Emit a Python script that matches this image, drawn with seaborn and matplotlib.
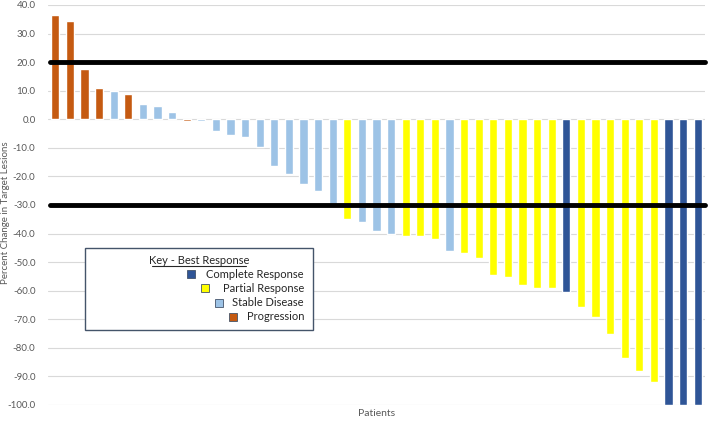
import numpy as np
import pandas as pd
import matplotlib.pyplot as plt
import matplotlib.patches as mpatches
import matplotlib.lines as mlines
import seaborn as sns

# values, left to right
change = [36.5, 34.5, 17.5, 11.0, 10.0, 9.0, 5.5, 4.5, 2.7, -0.5,
          -0.5, -4.2, -5.6, -6.2, -9.7, -16.3, -19.2, -22.7, -25.2, -29.5,
          -35.0, -36.0, -39.0, -40.0, -41.0, -41.0, -42.0, -46.0, -46.7, -48.6,
          -54.5, -55.2, -58.0, -59.0, -59.1, -60.4, -65.6, -69.2, -75.2, -83.5,
          -88.0, -92.0, -100.0, -100.0, -100.0]
response = ['PD', 'PD', 'PD', 'PD', 'SD', 'PD', 'SD', 'SD', 'SD', 'PD',
            'SD', 'SD', 'SD', 'SD', 'SD', 'SD', 'SD', 'SD', 'SD', 'SD',
            'PR', 'SD', 'SD', 'SD', 'PR', 'PR', 'PR', 'SD', 'PR', 'PR',
            'PR', 'PR', 'PR', 'PR', 'PR', 'CR', 'PR', 'PR', 'PR', 'PR',
            'PR', 'PR', 'CR', 'CR', 'CR']
key_codes = ['CR', 'PR', 'SD', 'PD']
key_labels = ['Complete Response', 'Partial Response', 'Stable Disease', 'Progression']
colors = {'CR': '#2F5597', 'PR': '#FFFF00', 'SD': '#9DC3E6', 'PD': '#C55A11'}
thresholds = [20, -30]

df = pd.DataFrame({'patient': np.arange(len(change)), 'change': change, 'response': response})

sns.set_style('white')
plt.rcParams['font.family'] = ['Lato', 'DejaVu Sans']

fig = plt.figure(figsize=(7.09, 4.21), dpi=100)
ax = fig.add_axes([48 / 709, 1 - 405 / 421, 657 / 709, 400 / 421])

sns.barplot(data=df, x='patient', y='change', hue='response', palette=colors,
            dodge=False, width=0.55, legend=False, ax=ax, saturation=1, zorder=3)

for t in thresholds:
    ax.axhline(t, xmin=0.003, color='black', lw=3.5, zorder=4, clip_on=False)

ax.set_ylim(-100, 40)
ax.set_xlim(-0.5, len(change) - 0.5)
ax.set_yticks(np.arange(-100, 41, 10))
ax.set_yticklabels([f'{v:.1f}' for v in np.arange(-100, 41, 10)], color='#595959', fontsize=7)
ax.set_xticks([])
ax.grid(axis='y', color='#D9D9D9', lw=0.8, zorder=0)
ax.tick_params(axis='y', length=0, pad=9)
for s in ax.spines.values():
    s.set_visible(False)
ax.set_xlabel('Patients', fontsize=7.5, color='#595959', labelpad=3)
ax.set_ylabel('Percent Change in Target Lesions', fontsize=7, color='#595959')
ax.yaxis.set_label_coords(-0.058, 0.48)

# key box, drawn like the original
def fx(px):
    return px / 709

def fy(py):
    return 1 - py / 421

box = mpatches.Rectangle((fx(85), fy(330)), fx(313) - fx(85), fy(248) - fy(330),
                         transform=fig.transFigure, facecolor='white',
                         edgecolor='#44546A', lw=1.0, zorder=5)
fig.add_artist(box)
fig.text(fx(199), fy(260), 'Key - Best Response', ha='center', va='center',
         fontsize=8, color='#262626', zorder=6)
fig.add_artist(mlines.Line2D([fx(152), fx(246)], [fy(266), fy(266)],
                             transform=fig.transFigure, color='#262626', lw=0.8, zorder=6))
for i, (code, label) in enumerate(zip(key_codes, key_labels)):
    y = 274 + i * 14.3
    mx = 191 + i * 14
    fig.add_artist(mpatches.Rectangle((fx(mx - 4), fy(y + 4)), fx(8), 8 / 421,
                                      transform=fig.transFigure, facecolor=colors[code],
                                      edgecolor='#44546A', lw=0.6, zorder=6))
    fig.text(fx(304), fy(y), label, ha='right', va='center', fontsize=8,
             color='#262626', zorder=6)

fig.savefig('out.png', dpi=100)
